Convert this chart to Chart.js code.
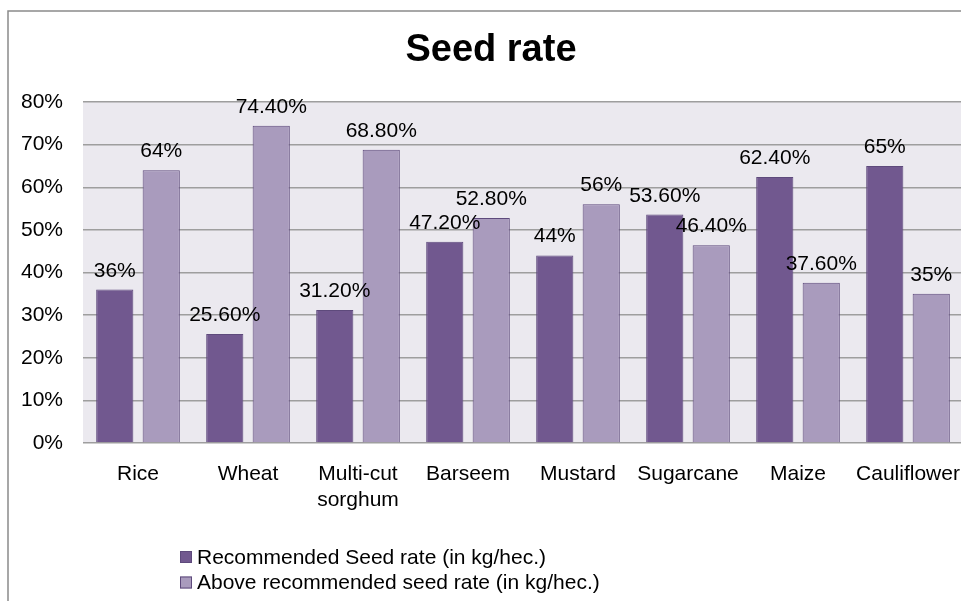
<!DOCTYPE html>
<html>
<head>
<meta charset="utf-8">
<script src="https://cdn.jsdelivr.net/npm/chart.js@4/dist/chart.umd.min.js"></script>
<style>
  html, body { margin: 0; padding: 0; background: #fff; overflow: hidden; }
  canvas { display: block; }
</style>
</head>
<body>
<canvas id="seedChart" width="982" height="610"></canvas>
<script>
const categories = ["Rice", "Wheat", ["Multi-cut", "sorghum"], "Barseem", "Mustard", "Sugarcane", "Maize", "Cauliflower"];
const recommended = [36, 25.6, 31.2, 47.2, 44, 53.6, 62.4, 65];
const aboveRecommended = [64, 74.4, 68.8, 52.8, 56, 46.4, 37.6, 35];
const seriesNames = ["Recommended Seed rate (in kg/hec.)", "Above recommended seed rate (in kg/hec.)"];
const yMax = 80;
const yStep = 10;

const FONT = "'Liberation Sans', Arial, sans-serif";
const DARK = "#71588f";
const LIGHT = "#a99bbd";
const EDGE = "#5e4a7c";

const fmt = (v) => (Number.isInteger(v) ? v : v.toFixed(2)) + "%";

// frame, plot background, title, value labels, legend
const decor = {
  id: "decor",
  beforeDraw(chart) {
    const { ctx, chartArea: a } = chart;
    ctx.save();
    ctx.fillStyle = "#ebe9ef";
    ctx.fillRect(a.left, a.top, a.right - a.left, a.bottom - a.top);
    ctx.strokeStyle = "#8a8a8a";
    ctx.lineWidth = 1.5;
    ctx.strokeRect(8, 11, chart.width - 16, chart.height + 20);
    ctx.restore();
  },
  afterDraw(chart) {
    const { ctx } = chart;
    ctx.save();
    ctx.fillStyle = "#000";
    ctx.textAlign = "center";
    ctx.textBaseline = "middle";
    ctx.font = "bold 38px " + FONT;
    ctx.fillText("Seed rate", chart.width / 2, 51);

    ctx.font = "21px " + FONT;
    ctx.textBaseline = "alphabetic";
    chart.data.datasets.forEach((ds, i) => {
      chart.getDatasetMeta(i).data.forEach((bar, j) => {
        ctx.fillText(fmt(ds.data[j]), bar.x, bar.y - 13);
      });
    });

    ctx.textAlign = "left";
    ctx.textBaseline = "middle";
    chart.data.datasets.forEach((ds, i) => {
      const y = 557 + i * 25.5;
      ctx.fillStyle = ds.backgroundColor;
      ctx.fillRect(180, y - 6, 12, 12);
      ctx.strokeStyle = EDGE;
      ctx.lineWidth = 1;
      ctx.strokeRect(180.5, y - 5.5, 11, 11);
      ctx.fillStyle = "#000";
      ctx.fillText(ds.label, 197, y + 1);
    });
    ctx.restore();
  },
};

new Chart(document.getElementById("seedChart"), {
  type: "bar",
  data: {
    labels: categories,
    datasets: [
      {
        label: seriesNames[0],
        data: recommended,
        backgroundColor: DARK,
        borderColor: EDGE,
        borderWidth: 1,
        categoryPercentage: 0.845,
        barPercentage: 0.8,
      },
      {
        label: seriesNames[1],
        data: aboveRecommended,
        backgroundColor: LIGHT,
        borderColor: EDGE,
        borderWidth: 1,
        categoryPercentage: 0.845,
        barPercentage: 0.8,
      },
    ],
  },
  options: {
    responsive: false,
    animation: false,
    layout: { padding: { top: 102, right: 19, left: 0, bottom: 0 } },
    plugins: {
      legend: { display: false },
      title: { display: false },
      tooltip: { enabled: false },
    },
    scales: {
      x: {
        grid: { display: false, drawTicks: false },
        border: { display: false },
        ticks: {
          color: "#000",
          font: { family: FONT, size: 21, lineHeight: 1.2 },
          padding: 19,
          maxRotation: 0,
          autoSkip: false,
        },
        afterFit: (s) => { s.height = 167; },
      },
      y: {
        min: 0,
        max: yMax,
        grid: { color: "#9e9e9e", lineWidth: 1.5, drawTicks: false },
        border: { display: false },
        ticks: {
          stepSize: yStep,
          color: "#000",
          font: { family: FONT, size: 21 },
          padding: 20,
          callback: (v) => v + "%",
        },
        afterFit: (s) => { s.width = 83; },
      },
    },
  },
  plugins: [decor],
});
</script>
</body>
</html>
